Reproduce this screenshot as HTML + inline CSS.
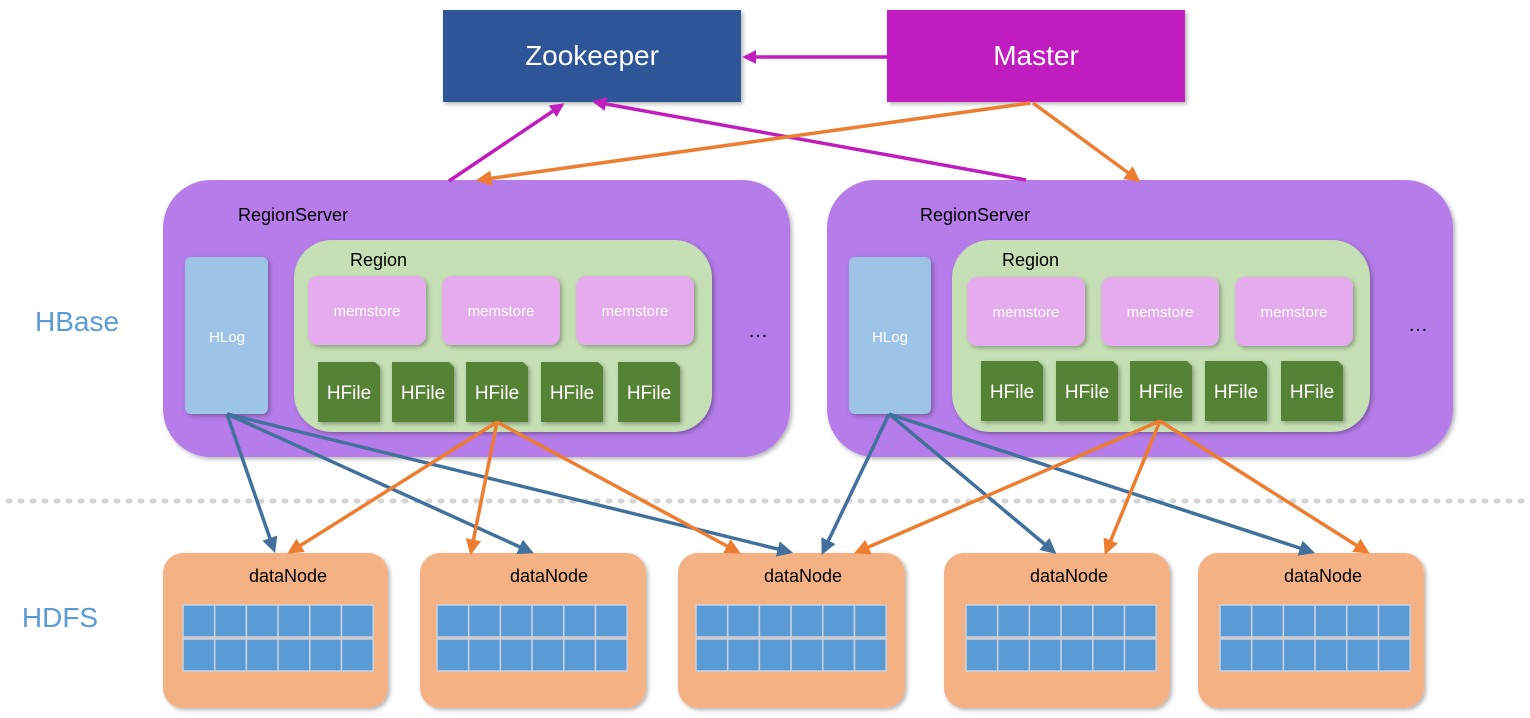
<!DOCTYPE html>
<html><head><meta charset="utf-8"><style>
html,body{margin:0;padding:0;background:#fff;}
svg{display:block;font-family:"Liberation Sans",sans-serif;}
</style></head><body>
<svg width="1530" height="718" viewBox="0 0 1530 718" xmlns="http://www.w3.org/2000/svg">
<defs>
<marker id="am" viewBox="0 0 10 10" refX="8" refY="5" markerWidth="4" markerHeight="4" orient="auto"><path d="M0,0 L10,5 L0,10 z" fill="#c11cbe"/></marker>
<marker id="ao" viewBox="0 0 10 10" refX="8" refY="5" markerWidth="4.5" markerHeight="4.5" orient="auto"><path d="M0,0 L10,5 L0,10 z" fill="#ed7d31"/></marker>
<marker id="ab" viewBox="0 0 10 10" refX="8" refY="5" markerWidth="4.5" markerHeight="4.5" orient="auto"><path d="M0,0 L10,5 L0,10 z" fill="#41719c"/></marker>
<filter id="sh" x="-5%" y="-5%" width="115%" height="115%"><feDropShadow dx="2" dy="2" stdDeviation="2" flood-color="#000" flood-opacity="0.3"/></filter>
</defs>

<rect x="443" y="10" width="298" height="92" fill="#2f5597" filter="url(#sh)"/>
<text x="592" y="65" font-size="28" fill="#fff" text-anchor="middle">Zookeeper</text>
<rect x="887" y="10" width="298" height="92" fill="#c01abf" filter="url(#sh)"/>
<text x="1036" y="65" font-size="28" fill="#fff" text-anchor="middle">Master</text>

<text x="77" y="331" font-size="28" fill="#5b9bd5" text-anchor="middle">HBase</text>
<text x="60" y="627" font-size="28" fill="#5b9bd5" text-anchor="middle">HDFS</text>

<g filter="url(#sh)">
<rect x="163" y="180" width="627" height="277" rx="48" fill="#b57bea"/>
<rect x="827" y="180" width="626" height="277" rx="48" fill="#b57bea"/>
</g>
<text x="238" y="221" font-size="18" fill="#000">RegionServer</text>
<text x="920" y="221" font-size="18" fill="#000">RegionServer</text>
<g filter="url(#sh)">
<rect x="185" y="257" width="83" height="157" rx="6" fill="#9dc3e6"/>
<rect x="849" y="257" width="82" height="157" rx="6" fill="#9dc3e6"/>
<rect x="294" y="240" width="418" height="192" rx="38" fill="#c5e0b4"/>
<rect x="952" y="240" width="418" height="192" rx="38" fill="#c5e0b4"/>
</g>
<text x="227" y="342" font-size="15" fill="#fff" text-anchor="middle">HLog</text>
<text x="890" y="342" font-size="15" fill="#fff" text-anchor="middle">HLog</text>
<text x="350" y="266" font-size="18" fill="#000">Region</text>
<text x="1002" y="266" font-size="18" fill="#000">Region</text>
<text x="758" y="337" font-size="20" fill="#000" text-anchor="middle">…</text>
<text x="1418" y="331" font-size="20" fill="#000" text-anchor="middle">…</text>

<g filter="url(#sh)" fill="#e4acec">
<rect x="308" y="276" width="118" height="69" rx="10"/>
<rect x="442" y="276" width="118" height="69" rx="10"/>
<rect x="576" y="276" width="118" height="69" rx="10"/>
<rect x="967" y="277" width="118" height="69" rx="10"/>
<rect x="1101" y="277" width="118" height="69" rx="10"/>
<rect x="1235" y="277" width="118" height="69" rx="10"/>
</g>
<g font-size="15" fill="#fff" text-anchor="middle">
<text x="367" y="316">memstore</text><text x="501" y="316">memstore</text><text x="635" y="316">memstore</text>
<text x="1026" y="317">memstore</text><text x="1160" y="317">memstore</text><text x="1294" y="317">memstore</text>
</g>

<g fill="#548235" filter="url(#sh)">
<path d="M318,362 h57 l5,5 v55 h-62z"/>
<path d="M392,362 h57 l5,5 v55 h-62z"/>
<path d="M466,362 h57 l5,5 v55 h-62z"/>
<path d="M541,362 h57 l5,5 v55 h-62z"/>
<path d="M618,362 h57 l5,5 v55 h-62z"/>
<path d="M981,361 h57 l5,5 v55 h-62z"/>
<path d="M1056,361 h57 l5,5 v55 h-62z"/>
<path d="M1130,361 h57 l5,5 v55 h-62z"/>
<path d="M1205,361 h57 l5,5 v55 h-62z"/>
<path d="M1281,361 h57 l5,5 v55 h-62z"/>
</g>
<g font-size="19" fill="#fff" text-anchor="middle">
<text x="349" y="399">HFile</text><text x="423" y="399">HFile</text><text x="497" y="399">HFile</text><text x="572" y="399">HFile</text><text x="649" y="399">HFile</text>
<text x="1012" y="398">HFile</text><text x="1087" y="398">HFile</text><text x="1161" y="398">HFile</text><text x="1236" y="398">HFile</text><text x="1312" y="398">HFile</text>
</g>

<line x1="8" y1="501" x2="1530" y2="501" stroke="#d5d5d5" stroke-width="5" stroke-dasharray="2 10" stroke-linecap="round"/>

<g filter="url(#sh)" fill="#f4b183">
<rect x="163" y="553" width="225" height="155" rx="20"/>
<rect x="420" y="553" width="226" height="155" rx="20"/>
<rect x="678" y="553" width="227" height="155" rx="20"/>
<rect x="944" y="553" width="226" height="155" rx="20"/>
<rect x="1198" y="553" width="226" height="155" rx="20"/>
</g>
<g font-size="18" fill="#000" text-anchor="middle">
<text x="288" y="582">dataNode</text><text x="549" y="582">dataNode</text><text x="803" y="582">dataNode</text><text x="1069" y="582">dataNode</text><text x="1323" y="582">dataNode</text>
</g>
<g fill="#5b9bd5" stroke="#c9d3e0" stroke-width="1.5">
<g id="grid">
<rect x="183" y="605" width="31.7" height="32"/><rect x="214.7" y="605" width="31.7" height="32"/><rect x="246.4" y="605" width="31.7" height="32"/><rect x="278.1" y="605" width="31.7" height="32"/><rect x="309.8" y="605" width="31.7" height="32"/><rect x="341.5" y="605" width="31.7" height="32"/>
<rect x="183" y="639" width="31.7" height="32"/><rect x="214.7" y="639" width="31.7" height="32"/><rect x="246.4" y="639" width="31.7" height="32"/><rect x="278.1" y="639" width="31.7" height="32"/><rect x="309.8" y="639" width="31.7" height="32"/><rect x="341.5" y="639" width="31.7" height="32"/>
</g>
<use href="#grid" x="254"/>
<use href="#grid" x="513"/>
<use href="#grid" x="783"/>
<use href="#grid" x="1037"/>
</g>

<g fill="none" stroke-width="3.5">
<line x1="887" y1="57" x2="745" y2="57" stroke="#c11cbe" marker-end="url(#am)"/>
<line x1="449" y1="181" x2="562" y2="105" stroke="#c11cbe" marker-end="url(#am)"/>
<line x1="1026" y1="180" x2="595" y2="102" stroke="#c11cbe" marker-end="url(#am)"/>
<line x1="1030" y1="103" x2="479" y2="180" stroke="#ed7d31" marker-end="url(#ao)"/>
<line x1="1033" y1="103" x2="1138" y2="180" stroke="#ed7d31" marker-end="url(#ao)"/>

<line x1="227" y1="414" x2="274" y2="550" stroke="#41719c" marker-end="url(#ab)"/>
<line x1="227" y1="414" x2="531" y2="552" stroke="#41719c" marker-end="url(#ab)"/>
<line x1="227" y1="414" x2="790" y2="552" stroke="#41719c" marker-end="url(#ab)"/>
<line x1="497" y1="422" x2="290" y2="552" stroke="#ed7d31" marker-end="url(#ao)"/>
<line x1="497" y1="422" x2="471" y2="552" stroke="#ed7d31" marker-end="url(#ao)"/>
<line x1="497" y1="422" x2="738" y2="552" stroke="#ed7d31" marker-end="url(#ao)"/>

<line x1="889" y1="414" x2="823" y2="552" stroke="#41719c" marker-end="url(#ab)"/>
<line x1="889" y1="414" x2="1054" y2="552" stroke="#41719c" marker-end="url(#ab)"/>
<line x1="889" y1="414" x2="1312" y2="552" stroke="#41719c" marker-end="url(#ab)"/>
<line x1="1160" y1="421" x2="857" y2="552" stroke="#ed7d31" marker-end="url(#ao)"/>
<line x1="1160" y1="421" x2="1106" y2="552" stroke="#ed7d31" marker-end="url(#ao)"/>
<line x1="1160" y1="421" x2="1367" y2="552" stroke="#ed7d31" marker-end="url(#ao)"/>
</g>
</svg>
</body></html>
